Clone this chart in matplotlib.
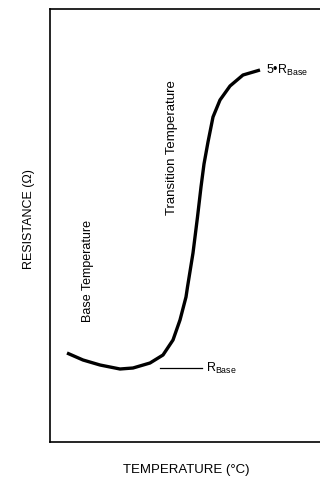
import matplotlib
matplotlib.use("Agg")
import matplotlib.pyplot as plt

plt.rcParams['font.family'] = ['Liberation Sans', 'DejaVu Sans']
plt.rcParams['mathtext.fontset'] = 'custom'
plt.rcParams['mathtext.rm'] = 'Liberation Sans'
plt.rcParams['mathtext.it'] = 'Liberation Sans:italic'

# curve data (arbitrary units)
temp = [17, 33, 50, 70, 83, 100, 113, 123, 130, 136, 137.5, 143, 147.5, 151, 154,
        158, 163, 170, 180, 193, 210]
res = [89, 82, 77, 73, 74, 79, 87, 102, 122, 145, 155, 189, 225, 255, 278,
       300, 325, 342, 356, 367, 372]

rbase_x = [110, 152]
rbase_y = [74, 74]

W, H = 320, 478
fig = plt.figure(figsize=(W / 100, H / 100), dpi=100)
left, right, top, bottom = 50, 324, 9, 442
ax = fig.add_axes([left / W, 1 - bottom / H, (right - left) / W, (bottom - top) / H])
ax.set_xlim(0, right - left)
ax.set_ylim(0, bottom - top)

ax.plot(temp, res, color='black', lw=2.4, solid_capstyle='butt', solid_joinstyle='round')
ax.plot(rbase_x, rbase_y, color='black', lw=0.9)

ax.text(156, 74, r"R$_{\rm Base}$", fontsize=9, va='center', ha='left')
ax.text(216, 372, r"5•R$_{\rm Base}$", fontsize=9, va='center', ha='left')

ax.text(38, 171, "Base Temperature", rotation=90, fontsize=9, ha='center', va='center')
ax.text(122, 294, "Transition Temperature", rotation=90, fontsize=9.5, ha='center', va='center')

ax.set_xticks([])
ax.set_yticks([])
for s in ax.spines.values():
    s.set_linewidth(1.2)

fig.text(186 / W, 1 - 470 / H, "TEMPERATURE (°C)", fontsize=9.5, ha='center', va='center')
fig.text(29 / W, 1 - 219 / H, "RESISTANCE (Ω)", fontsize=9, ha='center', va='center', rotation=90)

fig.savefig("out.png", dpi=100)
